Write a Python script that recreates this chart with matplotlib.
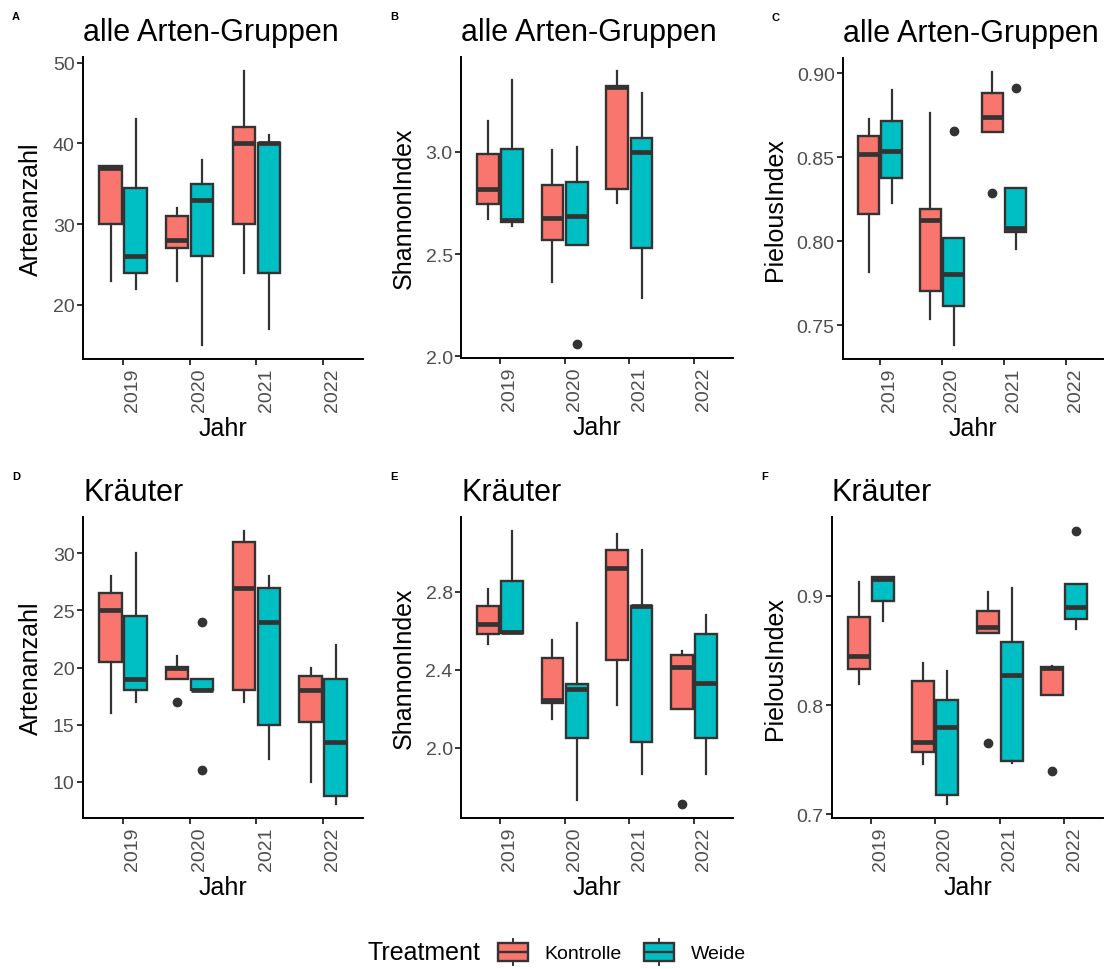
import matplotlib
matplotlib.use("Agg")
import matplotlib.pyplot as plt
from matplotlib.ticker import FormatStrFormatter
from matplotlib.transforms import ScaledTranslation
from matplotlib.legend_handler import HandlerBase
from matplotlib.patches import Rectangle, Patch
from matplotlib.lines import Line2D

plt.rcParams['font.family'] = ['Liberation Sans', 'DejaVu Sans']

years = ["2019", "2020", "2021", "2022"]
colors = {"Kontrolle": "#F8766D", "Weide": "#00BFC4"}
edge = "#333333"

# per year: [whisker low, q1, median, q3, whisker high], None = no data
artenA_kon = [[23, 30, 37, 37.2, 37.2], [23, 27, 28, 31, 32], [24, 30, 40, 42, 49], None]
artenA_wei = [[22, 24, 26, 34.5, 43], [15, 26, 33, 35, 38], [17, 24, 40, 40.1, 41], None]
artenA_kon_out = [[], [], [], []]
artenA_wei_out = [[], [], [], []]

shanA_kon = [[2.67, 2.744, 2.82, 2.99, 3.153], [2.365, 2.568, 2.679, 2.84, 3.008],
             [2.75, 2.82, 3.32, 3.325, 3.398], None]
shanA_wei = [[2.638, 2.657, 2.667, 3.015, 3.352], [2.544, 2.544, 2.687, 2.854, 3.024],
             [2.284, 2.529, 3.0, 3.068, 3.287], None]
shanA_kon_out = [[], [], [], []]
shanA_wei_out = [[], [2.058], [], []]

pielA_kon = [[0.7817, 0.8163, 0.8519, 0.8624, 0.8727], [0.7534, 0.7704, 0.8127, 0.8193, 0.876],
             [0.8652, 0.8652, 0.8737, 0.888, 0.9008], None]
pielA_wei = [[0.8226, 0.8377, 0.8537, 0.8717, 0.890], [0.738, 0.7615, 0.7805, 0.8018, 0.8018],
             [0.7951, 0.8054, 0.8078, 0.8317, 0.8317], None]
pielA_kon_out = [[], [], [0.8288], []]
pielA_wei_out = [[], [0.8654], [0.8911], []]

artenK_kon = [[16, 20.5, 25, 26.5, 28], [19, 19, 20, 20.05, 21], [17, 18, 27, 31, 32], [10, 15.25, 18, 19.25, 20]]
artenK_wei = [[17, 18, 19, 24.5, 30], [18, 18, 18, 19, 19], [12, 15, 24, 27, 28], [8, 8.75, 13.5, 19, 22]]
artenK_kon_out = [[], [17], [], []]
artenK_wei_out = [[], [24, 11], [], []]

shanK_kon = [[2.535, 2.586, 2.638, 2.727, 2.815], [2.149, 2.231, 2.244, 2.462, 2.552],
             [2.217, 2.453, 2.923, 3.017, 3.099], [2.2, 2.2, 2.415, 2.474, 2.496]]
shanK_wei = [[2.59, 2.59, 2.593, 2.855, 3.115], [1.73, 2.051, 2.303, 2.328, 2.641],
             [1.863, 2.031, 2.727, 2.727, 3.017], [1.867, 2.051, 2.33, 2.586, 2.684]]
shanK_kon_out = [[], [], [], [1.709]]
shanK_wei_out = [[], [], [], []]

pielK_kon = [[0.8194, 0.8328, 0.8453, 0.8805, 0.9131], [0.7458, 0.7568, 0.766, 0.8224, 0.8389],
             [0.8658, 0.8658, 0.8719, 0.8866, 0.904], [0.8093, 0.8093, 0.8337, 0.8347, 0.8359]]
pielK_wei = [[0.8771, 0.8957, 0.9156, 0.9171, 0.9171], [0.7092, 0.7177, 0.7797, 0.8047, 0.8316],
             [0.7473, 0.7492, 0.8276, 0.8582, 0.9076], [0.8698, 0.8789, 0.8902, 0.9107, 0.9107]]
pielK_kon_out = [[], [], [0.7656], [0.74]]
pielK_wei_out = [[], [], [], [0.9598]]

W, H = 1105, 970
fig = plt.figure(figsize=(W / 100, H / 100), dpi=100)


def box_axes(left, right, top, bottom):
    return fig.add_axes([left / W, 1 - bottom / H, (right - left) / W, (bottom - top) / H])


def draw_panel(ax, kon, wei, kon_out, wei_out, title, ylabel, yticks, fmt, letter):
    allv = []
    for stats, outs, off, name in ((kon, kon_out, -0.1875, "Kontrolle"), (wei, wei_out, 0.1875, "Weide")):
        bx, pos = [], []
        for i, s in enumerate(stats):
            if s is None:
                continue
            bx.append(dict(whislo=s[0], q1=s[1], med=s[2], q3=s[3], whishi=s[4], fliers=outs[i]))
            pos.append(i + 1 + off)
            allv += [s[0], s[4]] + list(outs[i])
        ax.bxp(bx, positions=pos, widths=0.3375, patch_artist=True, showcaps=False,
               boxprops=dict(facecolor=colors[name], edgecolor=edge, linewidth=1.7),
               medianprops=dict(color=edge, linewidth=3.4, solid_capstyle='butt'),
               whiskerprops=dict(color=edge, linewidth=1.6),
               flierprops=dict(marker='o', markerfacecolor=edge, markeredgecolor=edge, markersize=6))
    lo, hi = min(allv), max(allv)
    pad = (hi - lo) * 0.05
    ax.set_ylim(lo - pad, hi + pad)
    ax.set_xlim(0.4, 4.6)
    ax.set_xticks(range(1, 5))
    ax.set_xticklabels(years, rotation=90)
    ax.set_yticks(yticks)
    ax.yaxis.set_major_formatter(FormatStrFormatter(fmt))
    for sp in ["top", "right"]:
        ax.spines[sp].set_visible(False)
    for sp in ["left", "bottom"]:
        ax.spines[sp].set_linewidth(1.4)
        ax.spines[sp].set_color("black")
    ax.tick_params(length=4, width=1.4, color=edge, labelcolor="#4D4D4D", labelsize=14, pad=2)
    for lab in ax.get_xticklabels():
        lab.set_transform(lab.get_transform() + ScaledTranslation(7 / 72, 0, fig.dpi_scale_trans))
    ax.set_xlabel("Jahr", fontsize=18, labelpad=4)
    ax.set_ylabel(ylabel, fontsize=18, labelpad=7)
    ax.set_title(title, loc="left", fontsize=22, pad=12)
    bb = ax.get_position()
    fig.text(bb.x0 - 71 / W, bb.y1 + 41 / H, letter, fontsize=8, fontweight="bold", va="center", ha="left")


axA = box_axes(83, 363, 58, 360)
axB = box_axes(461, 733, 58, 359)
axC = box_axes(843, 1103, 59, 360)
axD = box_axes(83, 363, 518, 819)
axE = box_axes(461, 733, 518, 819)
axF = box_axes(832, 1103, 518, 819)

draw_panel(axA, artenA_kon, artenA_wei, artenA_kon_out, artenA_wei_out,
           "alle Arten-Gruppen", "Artenanzahl", [20, 30, 40, 50], "%d", "A")
draw_panel(axB, shanA_kon, shanA_wei, shanA_kon_out, shanA_wei_out,
           "alle Arten-Gruppen", "ShannonIndex", [2.0, 2.5, 3.0], "%.1f", "B")
draw_panel(axC, pielA_kon, pielA_wei, pielA_kon_out, pielA_wei_out,
           "alle Arten-Gruppen", "PielousIndex", [0.75, 0.80, 0.85, 0.90], "%.2f", "C")
draw_panel(axD, artenK_kon, artenK_wei, artenK_kon_out, artenK_wei_out,
           "Kräuter", "Artenanzahl", [10, 15, 20, 25, 30], "%d", "D")
draw_panel(axE, shanK_kon, shanK_wei, shanK_kon_out, shanK_wei_out,
           "Kräuter", "ShannonIndex", [2.0, 2.4, 2.8], "%.1f", "E")
draw_panel(axF, pielK_kon, pielK_wei, pielK_kon_out, pielK_wei_out,
           "Kräuter", "PielousIndex", [0.7, 0.8, 0.9], "%.1f", "F")


class BoxKey(HandlerBase):
    def create_artists(self, legend, orig_handle, xdescent, ydescent, width, height, fontsize, trans):
        x0, y0 = -xdescent, -ydescent
        cx = x0 + width / 2
        wl = Line2D([cx, cx], [y0 - 0.1 * height, y0 + 1.1 * height], color=edge, lw=1.4, transform=trans)
        rect = Rectangle((x0 + 0.03 * width, y0 + 0.12 * height), 0.94 * width, 0.76 * height,
                         facecolor=orig_handle.get_facecolor(), edgecolor=edge, lw=1.7, transform=trans)
        med = Line2D([x0 + 0.03 * width, x0 + 0.97 * width], [y0 + height / 2] * 2, color=edge, lw=1.7,
                     solid_capstyle='butt', transform=trans)
        return [wl, rect, med]


handles = [Patch(facecolor=colors[k]) for k in ["Kontrolle", "Weide"]]
fig.text(367 / W, 1 - 953 / H, "Treatment", fontsize=18, va="center", ha="left")
fig.legend(handles, ["Kontrolle", "Weide"], loc="center left", bbox_to_anchor=(497 / W, 1 - 953 / H),
           ncol=2, frameon=False, borderpad=0, borderaxespad=0, fontsize=14,
           handlelength=1.65, handleheight=1.4, handletextpad=0.8, columnspacing=1.1,
           handler_map={Patch: BoxKey()})

fig.savefig("out.png", dpi=100)
